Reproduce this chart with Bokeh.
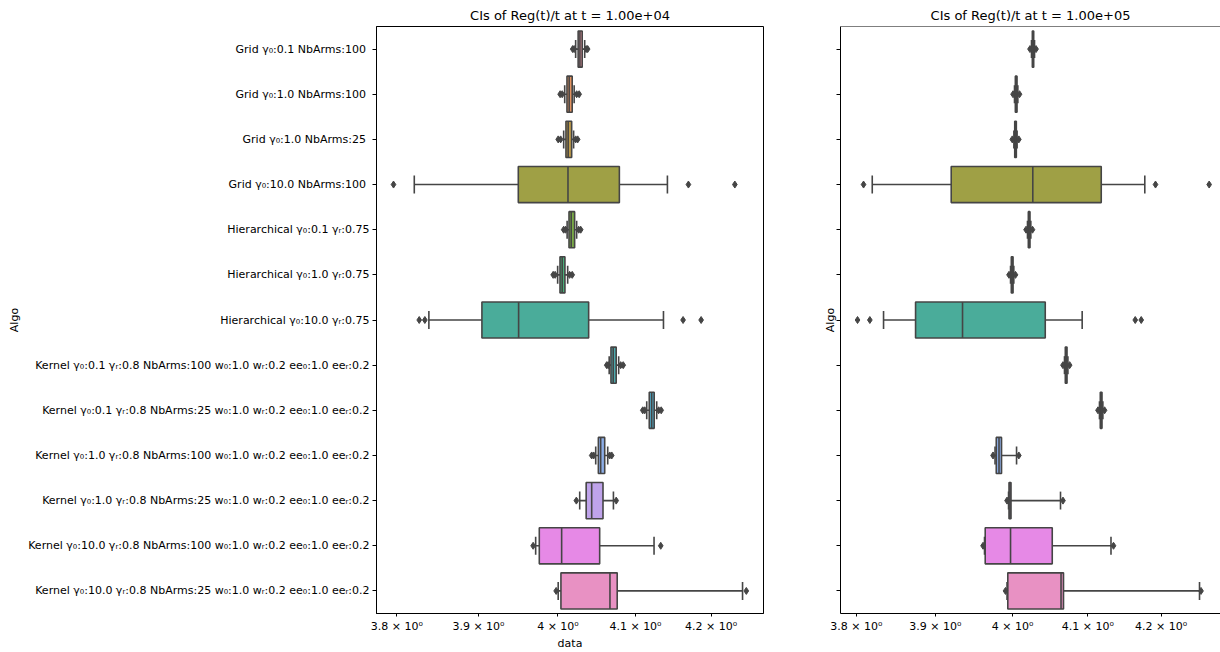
import math
import colorsys
import numpy as np
from bokeh.plotting import figure
from bokeh.models import (FactorRange, Range1d, FixedTicker, CustomJSTickFormatter,
                          Whisker, TeeHead, ColumnDataSource, Span, LinearAxis)
from bokeh.layouts import row
from bokeh.embed import file_html
from bokeh.resources import INLINE

# ---------------- data ----------------
algos = [
    "Grid  γ₀:0.1 NbArms:100",
    "Grid  γ₀:1.0 NbArms:100",
    "Grid  γ₀:1.0 NbArms:25",
    "Grid  γ₀:10.0 NbArms:100",
    "Hierarchical γ₀:0.1 γᵣ:0.75",
    "Hierarchical γ₀:1.0 γᵣ:0.75",
    "Hierarchical γ₀:10.0 γᵣ:0.75",
    "Kernel γ₀:0.1 γᵣ:0.8 NbArms:100 w₀:1.0 wᵣ:0.2 ee₀:1.0 eeᵣ:0.2",
    "Kernel γ₀:0.1 γᵣ:0.8 NbArms:25 w₀:1.0 wᵣ:0.2 ee₀:1.0 eeᵣ:0.2",
    "Kernel γ₀:1.0 γᵣ:0.8 NbArms:100 w₀:1.0 wᵣ:0.2 ee₀:1.0 eeᵣ:0.2",
    "Kernel γ₀:1.0 γᵣ:0.8 NbArms:25 w₀:1.0 wᵣ:0.2 ee₀:1.0 eeᵣ:0.2",
    "Kernel γ₀:10.0 γᵣ:0.8 NbArms:100 w₀:1.0 wᵣ:0.2 ee₀:1.0 eeᵣ:0.2",
    "Kernel γ₀:10.0 γᵣ:0.8 NbArms:25 w₀:1.0 wᵣ:0.2 ee₀:1.0 eeᵣ:0.2",
]

x_ticks = [3.8, 3.9, 4.0, 4.1, 4.2]

# t = 1e4
q1_a = [4.0258, 4.0115, 4.0102, 3.9498, 4.0141, 4.0026, 3.9043, 4.0681, 4.1180, 4.0518, 4.0361, 3.9763, 4.0038]
med_a = [4.0281, 4.0143, 4.0130, 4.0128, 4.0169, 4.0054, 3.9502, 4.0710, 4.1212, 4.0548, 4.0432, 4.0047, 4.0668]
q3_a = [4.0310, 4.0182, 4.0175, 4.0790, 4.0213, 4.0089, 4.0393, 4.0749, 4.1245, 4.0600, 4.0578, 4.0535, 4.0762]
lo_a = [4.0226, 4.0086, 4.0073, 3.8211, 4.0117, 3.9996, 3.8389, 4.0658, 4.1147, 4.0484, 4.0278, 3.9717, 4.0003]
hi_a = [4.0342, 4.0207, 4.0200, 4.1419, 4.0239, 4.0124, 4.1367, 4.0781, 4.1278, 4.0639, 4.0713, 4.1243, 4.2422]
fliers_a = [
    [4.0188, 4.0207, 4.0361, 4.0380],
    [4.0028, 4.0054, 4.0239, 4.0271],
    [4.0003, 4.0034, 4.0226, 4.0252],
    [3.7959, 4.1697, 4.2318],
    [4.0073, 4.0098, 4.0265, 4.0291],
    [3.9939, 3.9964, 4.0149, 4.0182],
    [3.8271, 3.8340, 4.1626, 4.1866],
    [4.0626, 4.0645, 4.0807, 4.0840],
    [4.1095, 4.1121, 4.1304, 4.1337],
    [4.0432, 4.0458, 4.0665, 4.0691],
    [4.0235, 4.0749],
    [3.9685, 4.1331],
    [3.9977, 4.2473],
]

# t = 1e5
q1_b = [4.0261, 4.0037, 4.0029, 3.9203, 4.0208, 3.9984, 3.8747, 4.0699, 4.1169, 3.9787, 3.9954, 3.9643, 3.9938]
med_b = [4.0270, 4.0049, 4.0039, 4.0267, 4.0219, 3.9996, 3.9349, 4.0711, 4.1182, 3.9823, 3.9967, 3.9974, 4.0642]
q3_b = [4.0279, 4.0059, 4.0050, 4.1182, 4.0230, 4.0007, 4.0432, 4.0722, 4.1192, 3.9856, 3.9980, 4.0525, 4.0675]
lo_b = [4.0250, 4.0026, 4.0018, 3.8200, 4.0197, 3.9974, 3.8342, 4.0688, 4.1158, 3.9771, 3.9948, 3.9634, 3.9928]
hi_b = [4.0290, 4.0070, 4.0060, 4.1775, 4.0241, 4.0017, 4.0925, 4.0734, 4.1204, 4.0053, 4.0635, 4.1314, 4.2532]
fliers_b = [
    [4.0230, 4.0310],
    [4.0007, 4.0092],
    [3.9997, 4.0083],
    [3.8091, 4.1922, 4.2667],
    [4.0178, 4.0263],
    [3.9954, 4.0039],
    [3.8016, 3.8170, 4.1644, 4.1726],
    [4.0668, 4.0757],
    [4.1138, 4.1227],
    [3.9745, 4.0083],
    [3.9928, 4.0668],
    [3.9615, 4.1348],
    [3.9908, 4.2553],
]

# ---------------- palette (seaborn husl, l=.7, desaturated .75) ----------------
_M = [[3.2406, -1.5372, -0.4986], [-0.9689, 1.8758, 0.0415], [0.0557, -0.2040, 1.0570]]
_refU, _refV = 0.19784, 0.46834


def _max_chroma(L, H):
    hrad = math.radians(H)
    sinH, cosH = math.sin(hrad), math.cos(hrad)
    sub1 = ((L + 16) ** 3.0) / 1560896.0
    sub2 = sub1 if sub1 > 0.008856 else (L / 903.3)
    result = float("inf")
    for m1, m2, m3 in _M:
        top = (0.99915 * m1 + 1.05122 * m2 + 1.14460 * m3) * sub2
        rbottom = 0.86330 * m3 - 0.17266 * m2
        lbottom = 0.12949 * m3 - 0.38848 * m1
        bottom = (rbottom * sinH + lbottom * cosH) * sub2
        for t in (0.0, 1.0):
            C = L * (top - 1.05122 * t) / (bottom + 0.17266 * sinH * t)
            if 0.0 < C < result:
                result = C
    return result


def _husl_to_rgb(H, S, L):
    C = _max_chroma(L, H) / 100.0 * S
    U = math.cos(math.radians(H)) * C
    V = math.sin(math.radians(H)) * C
    t = (L + 16.0) / 116.0
    varY = t ** 3 if t ** 3 > 0.008856 else (116.0 * t - 16.0) / 903.3
    varU = U / (13.0 * L) + _refU
    varV = V / (13.0 * L) + _refV
    Y = varY
    X = 0.0 - (9.0 * Y * varU) / ((varU - 4.0) * varV - varU * varV)
    Z = (9.0 * Y - (15.0 * varV * Y) - (varV * X)) / (3.0 * varV)
    out = []
    for row_ in _M:
        c = row_[0] * X + row_[1] * Y + row_[2] * Z
        c = 12.92 * c if c <= 0.0031308 else 1.055 * c ** (1 / 2.4) - 0.055
        out.append(min(max(c, 0.0), 1.0))
    return out


n = len(algos)
hues = (np.linspace(0, 1, n + 1)[:-1] + 0.01) % 1 * 359
cols = []
for h in hues:
    r, g, b = _husl_to_rgb(h, 0.9 * 99, 0.7 * 99)
    hh, ll, ss = colorsys.rgb_to_hls(r, g, b)
    cols.append(colorsys.hls_to_rgb(hh, ll, ss * 0.75))
lum = min(colorsys.rgb_to_hls(*c)[1] for c in cols) * 0.6
to_hex = lambda c: "#%02x%02x%02x" % tuple(int(round(v * 255)) for v in c)
colors = [to_hex(c) for c in cols]
gray = to_hex((lum, lum, lum))

FONT = "DejaVu Sans"
LW = 1.6
H = 652


def style_axis(ax):
    ax.axis_line_color = "black"
    ax.axis_line_width = 1
    ax.major_tick_line_color = "black"
    ax.major_label_text_font = FONT
    ax.major_label_text_font_size = "11px"
    ax.major_label_text_color = "black"
    ax.axis_label_text_font = FONT
    ax.axis_label_text_font_size = "11px"
    ax.axis_label_text_font_style = "normal"
    ax.axis_label_text_color = "black"


def make_panel(title, q1, med, q3, lo, hi, fliers, xr, width, mb_left, mb_right,
               show_ylabels, show_xlabel, outline):
    p = figure(width=width, height=H, x_axis_type="log",
               x_range=Range1d(*xr), y_range=FactorRange(factors=list(reversed(algos))),
               y_axis_location="left" if show_ylabels else None,
               output_backend="svg", toolbar_location=None,
               min_border_left=mb_left, min_border_right=mb_right,
               min_border_top=26, min_border_bottom=33)
    p.title.text = title
    p.title.text_font = FONT
    p.title.text_font_size = "13px"
    p.title.text_font_style = "normal"
    p.title.text_color = "black"
    p.title.align = "center"
    try:
        p.title.standoff = 8
    except Exception:
        pass

    src = ColumnDataSource(dict(algo=algos, q1=q1, med=med, q3=q3, lo=lo, hi=hi, color=colors))

    wh = Whisker(base="algo", lower="lo", upper="hi", dimension="width", source=src,
                 line_color=gray, line_width=LW, level="underlay",
                 lower_head=TeeHead(size=18, line_color=gray, line_width=LW),
                 upper_head=TeeHead(size=18, line_color=gray, line_width=LW))
    p.add_layout(wh)

    p.hbar(y="algo", left="q1", right="q3", height=0.8, fill_color="color",
           line_color=gray, line_width=LW, source=src)
    p.rect(x="med", y="algo", width=LW, width_units="screen", height=0.8,
           fill_color=gray, line_color=None, source=src)

    fx, fy = [], []
    for a, fl in zip(algos, fliers):
        for v in fl:
            fx.append(v)
            fy.append(a)
    p.scatter(x=fx, y=fy, marker="diamond", size=7, fill_color=gray,
              line_color=gray, line_width=1)

    p.xgrid.grid_line_color = None
    p.ygrid.grid_line_color = None

    if not show_ylabels:
        yax = LinearAxis(ticker=FixedTicker(ticks=[i + 0.5 for i in range(len(algos))]),
                         formatter=CustomJSTickFormatter(code="return '';"))
        p.add_layout(yax, "left")

    p.xaxis.ticker = FixedTicker(ticks=x_ticks)
    p.xaxis.formatter = CustomJSTickFormatter(
        code="return (Math.round(tick*10)/10).toString() + ' \u00d7 10\u2070';")
    p.xaxis.major_tick_out = 3
    p.xaxis.major_tick_in = 0
    p.xaxis.minor_tick_line_color = None
    p.xaxis.major_label_standoff = 3

    for ax in p.axis:
        style_axis(ax)

    for ax in p.yaxis:
        ax.major_tick_out = 4
        ax.major_tick_in = 0
        ax.minor_tick_line_color = None
        ax.axis_label = "Algo"
        if show_ylabels:
            ax.major_label_standoff = 3
            ax.axis_label_standoff = 4
        else:
            ax.major_label_standoff = 0
            ax.axis_label_standoff = 0

    if show_xlabel:
        p.xaxis.axis_label = "data"
        p.xaxis.axis_label_standoff = 1

    if outline:
        p.outline_line_color = "black"
        p.outline_line_alpha = 1
        p.outline_line_width = 1
    else:
        p.outline_line_color = None
        p.add_layout(Span(location=len(algos), dimension="width",
                          line_color="black", line_width=1))
    return p


p1 = make_panel("CIs of Reg(t)/t at t = 1.00e+04", q1_a, med_a, q3_a, lo_a, hi_a, fliers_a,
                (3.7754, 4.2706), 780, 376, 17, True, True, True)
p2 = make_panel("CIs of Reg(t)/t at t = 1.00e+05", q1_b, med_b, q3_b, lo_b, hi_b, fliers_b,
                (3.7804, 4.2826), 440, 60, 0, False, False, False)

layout = row(p1, p2)
open("out.html", "w").write(file_html(layout, INLINE))
